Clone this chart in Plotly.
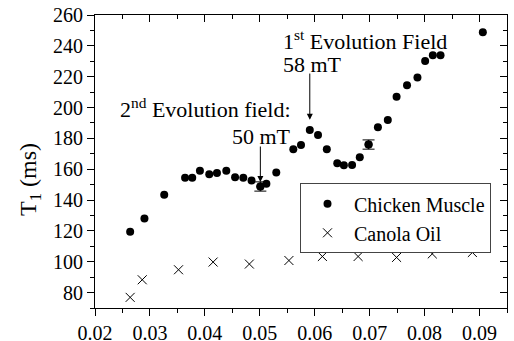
import plotly.graph_objects as go

# ---- data ----
chicken_x = [0.0264, 0.0290, 0.0326, 0.0364, 0.0377, 0.0391, 0.0408, 0.0422, 0.0439,
             0.0455, 0.0470, 0.0485, 0.0501, 0.0512, 0.0530, 0.0561, 0.0575, 0.0591,
             0.0606, 0.0622, 0.0641, 0.0653, 0.0668, 0.0682, 0.0698, 0.0715, 0.0733,
             0.0749, 0.0768, 0.0787, 0.0801, 0.0815, 0.0829, 0.0906]
chicken_y = [119.5, 128.0, 143.5, 154.5, 154.5, 159.0, 156.8, 157.5, 159.0,
             154.8, 154.5, 152.6, 148.8, 150.5, 157.8, 172.9, 175.7, 185.4,
             182.2, 172.9, 163.8, 162.6, 162.8, 167.7, 176.0, 187.2, 191.9,
             207.0, 214.5, 219.5, 230.1, 233.9, 233.9, 248.8]
chicken_err = [None] * 12 + [3.0] + [None] * 11 + [3.0] + [None] * 9

canola_x = [0.0264, 0.0286, 0.0352, 0.0415, 0.0481, 0.0553, 0.0614, 0.0679, 0.0749, 0.0814, 0.0887]
canola_y = [76.9, 88.3, 94.8, 99.8, 98.5, 100.8, 103.4, 103.4, 102.8, 105.1, 106.0]

x_range = [0.02, 0.095]
y_range = [70, 260]
x_ticks = [0.02, 0.03, 0.04, 0.05, 0.06, 0.07, 0.08, 0.09]
x_ticklabels = ["0.02", "0.03", "0.04", "0.05", "0.06", "0.07", "0.08", "0.09"]
y_ticks = [80, 100, 120, 140, 160, 180, 200, 220, 240, 260]

FONT = "Liberation Serif, Times New Roman, serif"

# points that carry error bars
err_idx = [i for i, e in enumerate(chicken_err) if e is not None]
err_x = [chicken_x[i] for i in err_idx]
err_y = [chicken_y[i] for i in err_idx]
err_v = [chicken_err[i] for i in err_idx]

fig = go.Figure()
fig.add_trace(go.Scatter(
    x=err_x, y=err_y, mode="markers", showlegend=False, hoverinfo="skip",
    marker=dict(symbol="circle", size=8, color="black"),
    error_y=dict(type="data", array=err_v, visible=True, color="black",
                 thickness=1, width=6),
))
fig.add_trace(go.Scatter(
    x=chicken_x, y=chicken_y, mode="markers", name="Chicken Muscle",
    marker=dict(symbol="circle", size=8, color="black"),
))
fig.add_trace(go.Scatter(
    x=canola_x, y=canola_y, mode="markers", name="Canola Oil",
    xaxis="x2", yaxis="y2",
    marker=dict(symbol="x-thin-open", size=9, color="black", line=dict(width=1, color="black")),
))

axis_common = dict(showgrid=False, zeroline=False, showline=True, linecolor="black",
                   linewidth=1, tickcolor="black", tickwidth=1, automargin=False)

fig.update_layout(
    width=514, height=341,
    margin=dict(l=95, r=7, t=15, b=33, autoexpand=False),
    paper_bgcolor="white", plot_bgcolor="white",
    font=dict(family=FONT, size=20, color="black"),
    xaxis=dict(range=x_range, tickvals=x_ticks, ticktext=x_ticklabels,
               ticks="outside", ticklen=7,
               minor=dict(dtick=0.005, tick0=0.02, ticks="outside", ticklen=4, tickcolor="black"),
               tickfont=dict(family=FONT, size=20), **axis_common),
    yaxis=dict(range=y_range, tickvals=y_ticks, ticks="outside", ticklen=7,
               minor=dict(dtick=10, tick0=70, ticks="outside", ticklen=4, tickcolor="black"),
               tickfont=dict(family=FONT, size=20), **axis_common),
    xaxis2=dict(range=x_range, overlaying="x", side="top", anchor="y2",
                tickvals=x_ticks, showticklabels=False, ticks="inside", ticklen=7,
                minor=dict(dtick=0.005, tick0=0.02, ticks="inside", ticklen=4, tickcolor="black"),
                **axis_common),
    yaxis2=dict(range=y_range, overlaying="y", side="right", anchor="x2",
                tickvals=y_ticks, showticklabels=False, ticks="inside", ticklen=7,
                minor=dict(dtick=10, tick0=70, ticks="inside", ticklen=4, tickcolor="black"),
                **axis_common),
    legend=dict(x=0.4976, y=0.4256, xanchor="left", yanchor="top",
                bgcolor="white", bordercolor="#444", borderwidth=1,
                font=dict(family=FONT, size=20), itemwidth=43,
                tracegroupgap=0),
    showlegend=True,
)

annots = [
    dict(x=0.0560, y=200.0, text="2<sup>nd</sup> Evolution field:", xanchor="right"),
    dict(x=0.0560, y=180.9, text="50 mT", xanchor="right"),
    dict(x=0.0539, y=243.7, text="1<sup>st</sup> Evolution Field", xanchor="left"),
    dict(x=0.0539, y=228.1, text="58 mT", xanchor="left"),
]
for a in annots:
    fig.add_annotation(xref="x", yref="y", showarrow=False, yanchor="middle",
                       font=dict(family=FONT, size=22, color="black"), **a)

arrows = [
    dict(x=0.0591, y=192.0, ax=0.0591, ay=223.0),
    dict(x=0.0501, y=151.7, ax=0.0501, ay=175.7),
]
for a in arrows:
    fig.add_annotation(xref="x", yref="y", axref="x", ayref="y", text="",
                       showarrow=True, arrowhead=2, arrowsize=1.2, arrowwidth=1,
                       arrowcolor="black", standoff=0, **a)

fig.add_annotation(xref="paper", yref="paper", x=-0.158, y=0.44, xanchor="center",
                   yanchor="middle", textangle=-90, showarrow=False,
                   text="T<sub>1</sub> (ms)", font=dict(family=FONT, size=24, color="black"))

fig.write_html("out.html", config={"displayModeBar": False},
               post_script="document.body.style.margin='0';document.body.style.padding='0';")
